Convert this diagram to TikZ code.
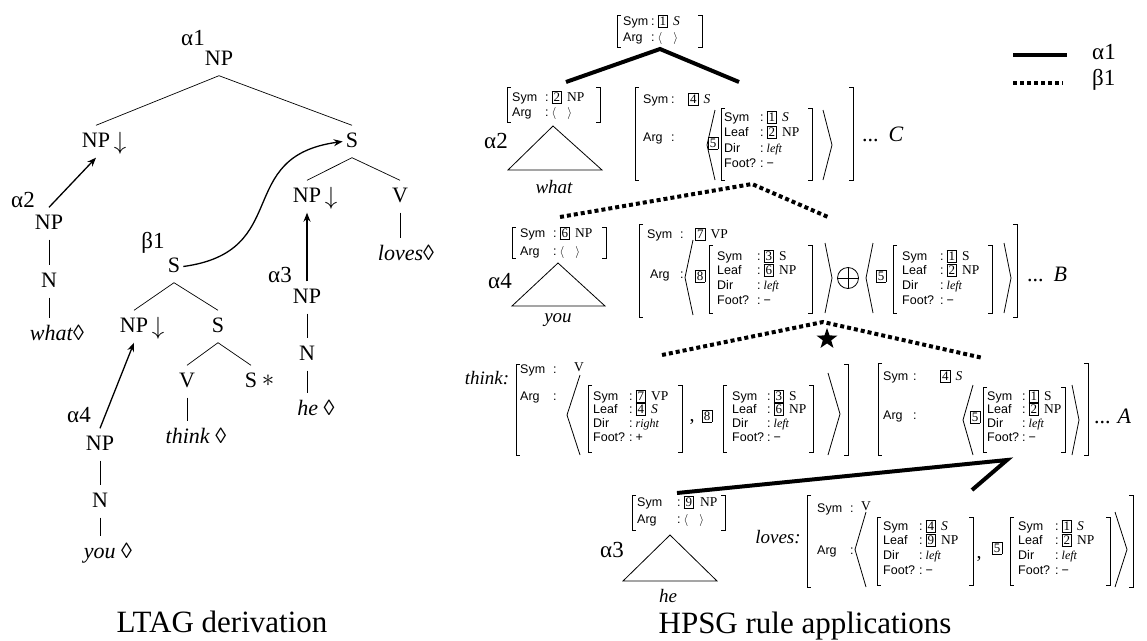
\documentclass[tikz,border=0pt]{standalone}
\usepackage{fontspec}
\setmainfont{Liberation Serif}
\setsansfont{Liberation Sans}
\usetikzlibrary{arrows.meta,shapes.geometric}

% feature-structure helpers
\newlength\avlabw
\setlength\avlabw{33pt}
\newcommand\avbox[1]{{\setlength\fboxsep{1.3pt}\setlength\fboxrule{0.7pt}\fbox{\rmfamily\fontsize{13}{12}\selectfont\rule{0pt}{8.6pt}#1}}}
\newcommand\avcat[1]{{\rmfamily\fontsize{13.5}{13}\selectfont #1}}
\newcommand\avicat[1]{{\rmfamily\itshape\fontsize{13.5}{13}\selectfont #1}}
\newcommand\avdir[1]{{\rmfamily\itshape\fontsize{12}{12}\selectfont #1}}
\newcommand\avlab[1]{\makebox[\avlabw][l]{#1}}
\newcommand\avnil{$\langle$\hspace{11pt}$\rangle$}
\newcommand\avbc[2]{\avbox{#1}\hspace{5pt}\avcat{#2}}
\newcommand\avbi[2]{\avbox{#1}\hspace{5pt}\avicat{#2}}
% square bracket: x, top, bottom, direction of the feet (+1 / -1)
\newcommand\avbrack[4]{\draw[avmline] ({#1+(#4)*4},#2) -- (#1,#2) -- (#1,#3) -- ({#1+(#4)*4},#3);}
% pair of square brackets: left x, right x, top, bottom
\newcommand\avpair[4]{\avbrack{#1}{#3}{#4}{1}\avbrack{#2}{#3}{#4}{-1}}
% angle bracket: open-side x, vertex x, top, bottom
\newcommand\avangle[4]{\draw[avmline] (#1,#3) -- (#2,{(#3+#4)/2}) -- (#1,#4);}
% four feature rows: name, x, first y, row step, Sym, Leaf, Dir, Foot?
\newcommand\avrows[8]{%
  \node[avm] (#1-sym) at (#2,#3) {\avlab{Sym}:\hspace{3pt}#5};
  \node[avm] (#1-leaf) at (#2,{#3+#4}) {\avlab{Leaf}:\hspace{3pt}#6};
  \node[avm] (#1-dir) at (#2,{#3+2*(#4)}) {\avlab{Dir}:\hspace{3pt}\avdir{#7}};
  \node[avm] (#1-foot) at (#2,{#3+3*(#4)}) {\avlab{Foot?}:\hspace{3pt}#8};}

\begin{document}
\begin{tikzpicture}[x=1pt,y=-1pt,
  avm/.style={anchor=west,inner sep=0pt,font=\sffamily\fontsize{12.5}{14}\selectfont,text height=9pt,text depth=2.5pt},
  plain/.style={inner sep=0pt},
  tnode/.style={font=\fontsize{22}{24}\selectfont,inner xsep=3pt,inner ysep=7pt,text height=15pt,text depth=3pt,yshift=-1.5pt},
  greek/.style={font=\fontsize{23}{24}\selectfont,inner sep=0pt},
  word/.style={font=\fontsize{19}{20}\selectfont\itshape,inner sep=0pt},
  capt/.style={font=\fontsize{31}{32}\selectfont,inner sep=0pt},
  trail/.style={font=\fontsize{22}{24}\selectfont,anchor=base west,inner sep=0pt},
  arr/.style={font=\fontsize{23}{24}\selectfont,inner sep=0pt},
  branch/.style={line width=0.7pt},
  subst/.style={line width=1.3pt,-{Stealth[length=9pt,width=7pt]}},
  avmline/.style={line width=0.8pt},
  solidlink/.style={line width=4pt},
  dotlink/.style={line width=4pt,dash pattern=on 4pt off 3pt},
]
\useasboundingbox (0,0) rectangle (1147,640);

% ================= LTAG derivation =================
\node[greek] (la1) at (193,38) {α1};
\node[tnode] (r) at (219,58) {NP};
\node[tnode] (np1) at (96,140) {NP};
\node[arr] (np1d) at (120,143) {$\downarrow$};
\node[tnode] (s1) at (352,140) {S};
\node[tnode] (np2) at (307,195) {NP};
\node[arr] (np2d) at (331,198) {$\downarrow$};
\node[tnode] (v1) at (400,195) {V};
\node[tnode] (loves) at (406,252.5) {\textit{loves}◊};

\node[greek] (la2) at (23,200) {α2};
\node[tnode] (a2np) at (49,222) {NP};
\node[tnode] (a2n) at (49,280) {N};
\node[tnode] (what) at (57,332.5) {\textit{what}◊};

\node[greek] (lb1) at (153,243) {β1};
\node[tnode] (b1s) at (174,265) {S};
\node[tnode] (b1np) at (134,325) {NP};
\node[arr] (b1npd) at (158,328) {$\downarrow$};
\node[tnode] (b1s2) at (218,325) {S};
\node[tnode] (b1v) at (187,380) {V};
\node[tnode] (b1foot) at (251,380) {S};
\node[arr] (b1star) at (268,381) {$\ast$};
\node[tnode] (think) at (196,435.5) {\textit{think} ◊};

\node[greek] (la4) at (79,415) {α4};
\node[tnode] (a4np) at (100,443) {NP};
\node[tnode] (a4n) at (100,500) {N};
\node[tnode] (you) at (108,550.5) {\textit{you} ◊};

\node[greek] (la3) at (280,275) {α3};
\node[tnode] (a3np) at (307,296) {NP};
\node[tnode] (a3n) at (307,353) {N};
\node[tnode] (he) at (316,407.5) {\textit{he} ◊};

\draw[branch] (r.south) -- (np1.north);
\draw[branch] (r.south) -- (s1.north);
\draw[branch] (s1.south) -- (np2.north);
\draw[branch] (s1.south) -- (v1.north);
\draw[branch] (v1.south) -- (v1.south |- loves.north);
\draw[branch] (a2np.south) -- (a2n.north);
\draw[branch] (a2n.south) -- (a2n.south |- what.north);
\draw[branch] (b1s.south) -- (b1np.north);
\draw[branch] (b1s.south) -- (b1s2.north);
\draw[branch] (b1s2.south) -- (b1v.north);
\draw[branch] (b1s2.south) -- (b1foot.north);
\draw[branch] (b1v.south) -- (b1v.south |- think.north);
\draw[branch] (a4np.south) -- (a4n.north);
\draw[branch] (a4n.south) -- (a4n.south |- you.north);
\draw[branch] (a3np.south) -- (a3n.north);
\draw[branch] (a3n.south) -- (a3n.south |- he.north);

\draw[subst] (a2np.north) -- (np1.south);
\draw[subst] (a4np.north) -- (b1np.south);
\draw[subst] (a3np.north) -- (np2.south);
\draw[subst] (b1s.east) .. controls +(110,-15) and +(-110,15) .. (s1.west);

\node[capt] (capl) at (222,622) {LTAG derivation};

% ================= HPSG rule applications =================
% legend
\coordinate (lg1a) at (1013,55);
\coordinate (lg1b) at (1067,55);
\coordinate (lg2a) at (1013,83);
\coordinate (lg2b) at (1063,83);
\draw[solidlink] (lg1a) -- (lg1b);
\draw[dotlink] (lg2a) -- (lg2b);
\node[greek,anchor=west] (lga1) at (1092,52) {α1};
\node[greek,anchor=west] (lgb1) at (1092,80) {β1};

% root
\avpair{617}{702}{15}{47}
\node[avm] (top-sym) at (623,22) {\makebox[28pt][l]{Sym}:\hspace{3pt}\avbi{1}{S}};
\node[avm] (top-arg) at (623,38) {\makebox[28pt][l]{Arg}:\hspace{3pt}\avnil};

% alpha2
\avpair{507}{600}{87}{122}
\node[avm] (a2-sym) at (512,98) {\makebox[33pt][l]{Sym}:\hspace{3pt}\avbc{2}{NP}};
\node[avm] (a2-arg) at (512,113) {\makebox[33pt][l]{Arg}:\hspace{3pt}\avnil};
\draw[avmline] (553,126) -- (508,170) -- (602,170) -- cycle;
\node[greek] (ha2) at (496,141) {α2};
\node[word] (hwhat) at (554,187) {what};

% C
\avpair{635}{853}{87}{180}
\node[avm] (c-symlab) at (643,100) {\makebox[28pt][l]{Sym}:};
\node[avm] (c-symval) at (688,100) {\avbi{4}{S}};
\node[avm] (c-arglab) at (643,138) {\makebox[28pt][l]{Arg}:};
\avangle{715}{707}{110}{180}
\node[plain] (c-5) at (713,143) {\avbox{5}};
\avpair{721}{812}{108}{180}
\setlength\avlabw{36pt}
\avrows{cin}{724}{118}{15.5}{\avbi{1}{S}}{\avbc{2}{NP}}{left}{−}
\avangle{823}{832}{110}{180}
\node[trail] (c-dots) at (862,141) {...\hspace{10pt}\textit{C}};

\coordinate (t-apex) at (660,49);
\coordinate (t-l) at (566,82);
\coordinate (t-r) at (739,82);
\draw[solidlink] (t-l) -- (t-apex) -- (t-r);

\coordinate (d1-apex) at (752,184);
\coordinate (d1-l) at (560,217);
\coordinate (d1-r) at (828,217);
\draw[dotlink] (d1-l) -- (d1-apex) -- (d1-r);

% alpha4
\avpair{512}{606}{227}{258}
\node[avm] (a4-sym) at (520,234) {\makebox[33pt][l]{Sym}:\hspace{3pt}\avbc{6}{NP}};
\node[avm] (a4-arg) at (520,252) {\makebox[33pt][l]{Arg}:\hspace{3pt}\avnil};
\draw[avmline] (558,263) -- (512,306) -- (605,306) -- cycle;
\node[greek] (ha4) at (500,281) {α4};
\node[word] (hyou) at (558,320) {you};

% B
\avpair{639}{1017}{224}{317}
\node[avm] (b-symlab) at (647,235) {\makebox[33pt][l]{Sym}:};
\node[avm] (b-symval) at (695,235) {\avbc{7}{VP}};
\node[avm] (b-arglab) at (650,275) {\makebox[30pt][l]{Arg}:};
\avangle{693}{685}{240}{315}
\node[plain] (b-8) at (700,276) {\avbox{8}};
\avpair{709}{812}{245}{313}
\setlength\avlabw{40pt}
\avrows{bin1}{717}{257}{14.7}{\avbc{3}{S}}{\avbc{6}{NP}}{left}{−}
\avangle{825}{832}{243}{313}
\node[circle,draw,avmline,minimum size=21pt,inner sep=0pt] (oplus) at (848,278) {};
\draw[avmline] (oplus.north) -- (oplus.south) (oplus.west) -- (oplus.east);
\avangle{873}{866}{243}{313}
\node[plain] (b-5) at (881,276) {\avbox{5}};
\avpair{893}{992}{245}{313}
\setlength\avlabw{38pt}
\avrows{bin2}{902}{257}{14.7}{\avbc{1}{S}}{\avbc{2}{NP}}{left}{−}
\avangle{1004}{1011}{243}{313}
\node[trail] (b-dots) at (1027,281) {...\hspace{10pt}\textit{B}};

\coordinate (d2-apex) at (823,322);
\coordinate (d2-l) at (662,355);
\coordinate (d2-r) at (983,358);
\draw[dotlink] (d2-l) -- (d2-apex) -- (d2-r);
\node[star,star points=5,star point ratio=2.5,fill=black,inner sep=0pt,minimum size=22pt] (star) at (827,339) {};

% think
\node[word] (hthink) at (487,378) {think:};
\avpair{516}{848}{364}{455}
\node[avm] (t-symlab) at (520,370) {\makebox[33pt][l]{Sym}:};
\node[avm,anchor=center] (t-symval) at (579,368) {\avcat{V}};
\node[avm] (t-arglab) at (520,397) {\makebox[33pt][l]{Arg}:};
\avangle{580}{567}{375}{455}
\avpair{588}{682}{385}{452}
\setlength\avlabw{36pt}
\avrows{tin1}{593}{397}{13.7}{\avbc{7}{VP}}{\avbi{4}{S}}{right}{+}
\node[plain,font=\fontsize{20}{20}\selectfont,anchor=base] (t-comma) at (692,421) {,};
\node[plain] (t-8) at (707,416) {\avbox{8}};
\avpair{723}{813}{385}{452}
\setlength\avlabw{35pt}
\avrows{tin2}{732}{397}{13.7}{\avbc{3}{S}}{\avbc{6}{NP}}{left}{−}
\avangle{828}{840}{373}{455}

% A
\avpair{878}{1088}{363}{455}
\node[avm] (a-symlab) at (883,377) {\makebox[30pt][l]{Sym}:};
\node[avm] (a-symval) at (940,377) {\avbi{4}{S}};
\node[avm] (a-arglab) at (883,416) {\makebox[30pt][l]{Arg}:};
\avangle{973}{963}{385}{455}
\node[plain] (a-5) at (975,417) {\avbox{5}};
\avpair{983}{1065}{387}{452}
\setlength\avlabw{35pt}
\avrows{ain}{987}{397}{13.7}{\avbc{1}{S}}{\avbc{2}{NP}}{left}{−}
\avangle{1072}{1079}{385}{455}
\node[trail] (a-dots) at (1094,423) {...\hspace{7pt}\textit{A}};

\coordinate (t2-apex) at (1007,460);
\coordinate (t2-l) at (677,493);
\coordinate (t2-r) at (972,490);
\draw[solidlink] (t2-l) -- (t2-apex) -- (t2-r);

% alpha3
\avpair{632}{725}{495}{530}
\node[avm] (a3-sym) at (637,503) {\makebox[40pt][l]{Sym}:\hspace{3pt}\avbox{9}\hspace{6pt}\avcat{NP}};
\node[avm] (a3-arg) at (637,520) {\makebox[40pt][l]{Arg}:\hspace{3pt}\avnil};
\draw[avmline] (670,535) -- (623,581) -- (717,581) -- cycle;
\node[greek] (ha3) at (612,550) {α3};
\node[word] (hhe) at (668,596) {he};

% loves
\node[word] (hloves) at (778,537) {loves:};
\avpair{807}{1133}{495}{587}
\node[avm] (l-symlab) at (817,509) {\makebox[33pt][l]{Sym}:};
\node[avm,anchor=center] (l-symval) at (866,507) {\avcat{V}};
\node[avm] (l-arglab) at (817,551) {\makebox[33pt][l]{Arg}:};
\avangle{866}{855}{512}{587}
\avpair{877}{973}{517}{585}
\setlength\avlabw{36pt}
\avrows{lin1}{883}{527}{14.7}{\avbi{4}{S}}{\avbc{9}{NP}}{left}{−}
\node[plain,font=\fontsize{20}{20}\selectfont,anchor=base] (l-comma) at (979,558) {,};
\node[plain] (l-5) at (997,548) {\avbox{5}};
\avpair{1010}{1110}{517}{585}
\setlength\avlabw{37pt}
\avrows{lin2}{1018}{527}{14.7}{\avbi{1}{S}}{\avbc{2}{NP}}{left}{−}
\avangle{1115}{1127}{512}{587}

\node[capt] (capr) at (805,626) {HPSG rule applications};
\end{tikzpicture}
\end{document}
